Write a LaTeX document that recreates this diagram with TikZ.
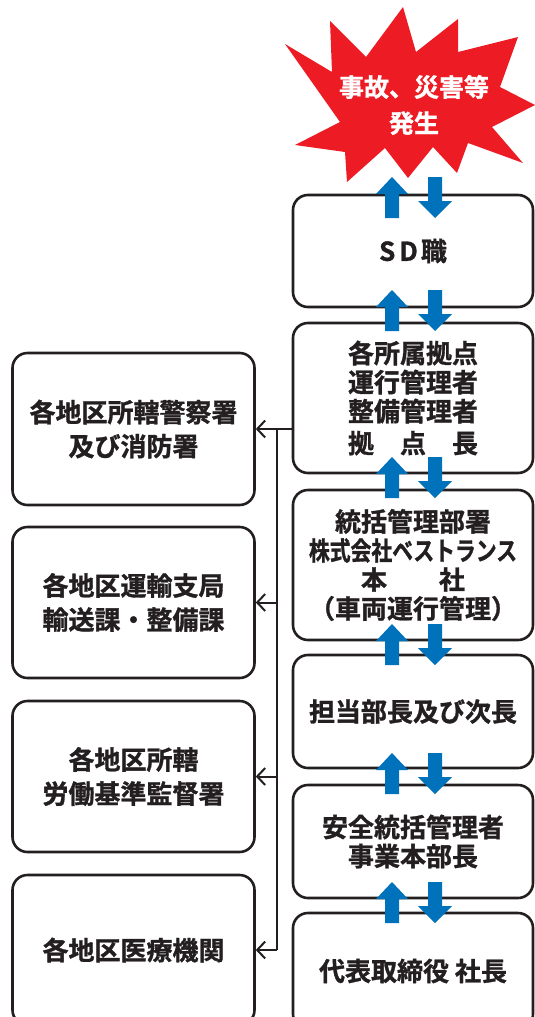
\documentclass[tikz,border=0pt]{standalone}
\usepackage{fontspec}
\newfontfamily\jp{Noto Sans CJK JP}[BoldFont={Noto Sans CJK JP Bold},BoldFeatures={FakeBold=1.2}]
\usetikzlibrary{arrows.meta}
\definecolor{burst}{HTML}{ED1C24}
\definecolor{flow}{HTML}{0072BC}
\definecolor{ink}{HTML}{231F20}
\begin{document}
\begin{tikzpicture}[x=1pt,y=-1pt,
  box/.style={draw=ink,line width=2.6pt,rounded corners=15pt,align=center,inner sep=0pt,text=ink,
    font=\jp\bfseries\fontsize{26}{29}\selectfont},
  rbox/.style={box,minimum width=240pt},
  lbox/.style={box,minimum width=242pt,font=\jp\bfseries\fontsize{26}{34}\selectfont},
  conn/.style={draw=ink,line width=2pt},
  tipline/.style={conn,-{Straight Barb[length=8pt,width=17pt]}},
  flowarrow/.style={fill=flow}]
\useasboundingbox (0,0) rectangle (535,1017);
\clip (0,0) rectangle (535,1017);
% burst
\fill[burst] (403,7) -- (416,52) -- (458,19) -- (458,52) -- (518,37) -- (500,87)
  -- (535,105) -- (492,127) -- (523,163) -- (468,143) -- (457,173) -- (433,147)
  -- (408,178) -- (385,148) -- (347,182) -- (345,152) -- (295,145) -- (340,122)
  -- (285,44) -- (332,72) -- (330,21) -- (366,57) -- cycle;
\node[align=center,text=white,font=\jp\bfseries\fontsize{25}{36}\selectfont] (event) at (414,105) {事故、災害等\\発生};
% right column
\node[rbox,minimum height=112pt] (sd) at (413,251) {S\hspace{4pt}D\hspace{3pt}職};
\node[rbox,minimum height=150pt] (base) at (413,398) {各所属拠点\\運行管理者\\整備管理者\\[3pt]拠　点　長};
\node[rbox,minimum height=150pt] (hq) at (413,565) {統括管理部署\\\scalebox{0.8}[1]{株式会社ベストランス}\\本　　社\\（車両運行管理）};
\node[rbox,minimum height=113pt] (mgr) at (413,711.5) {担当部長及び次長};
\node[rbox,minimum height=113pt] (safety) at (413,841.5) {安全統括管理者\\事業本部長};
\node[rbox,minimum height=116pt] (pres) at (413,971) {代表取締役 社長};
% left column
\node[lbox,minimum height=152pt] (police) at (133.5,429) {各地区所轄警察署\\及び消防署};
\node[lbox,minimum height=151pt] (transport) at (133.5,602.5) {各地区運輸支局\\輸送課・整備課};
\node[lbox,minimum height=151pt] (labour) at (133.5,776.5) {各地区所轄\\労働基準監督署};
\node[lbox,minimum height=150pt] (medical) at (133.5,950) {各地区医療機関};
% connectors
\coordinate (split) at (277,429);
\draw[tipline] (base.west |- police.east) -- (police.east);
\draw[conn] (split) -- (split |- medical.east);
\draw[tipline] (split |- transport.east) -- (transport.east);
\draw[tipline] (split |- labour.east) -- (labour.east);
\draw[tipline] (split |- medical.east) -- (medical.east);
% blue arrows
\foreach \t in {177,290,457,624,753,882}{
  \fill[flowarrow] (392,\t) -- (408,\t+17) -- (399,\t+17) -- (399,\t+41) -- (385,\t+41) -- (385,\t+17) -- (376,\t+17) -- cycle;
  \fill[flowarrow] (428,\t) -- (442,\t) -- (442,\t+24) -- (452,\t+24) -- (435,\t+41) -- (418,\t+24) -- (428,\t+24) -- cycle;
}
\end{tikzpicture}
\end{document}
